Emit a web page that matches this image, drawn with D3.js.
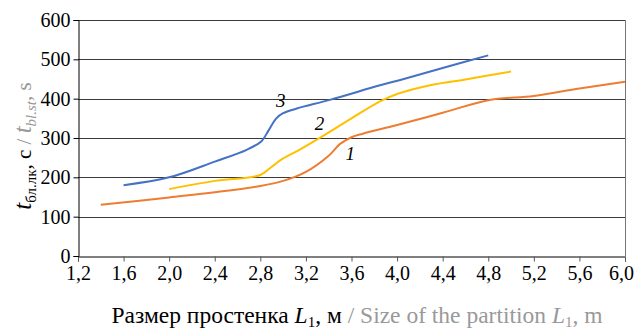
<!DOCTYPE html>
<html>
<head>
<meta charset="utf-8">
<script src="https://cdn.jsdelivr.net/npm/d3@7"></script>
<style>
  html, body { margin: 0; padding: 0; background: #fff; }
  svg { display: block; }
  svg text { font-family: "Liberation Serif", "Times New Roman", serif; }
</style>
</head>
<body>
<svg id="chart" width="636" height="330"></svg>
<script>
// Partition size L1 (m) vs. time t (s), three curves
const xTicks = [1.2, 1.6, 2.0, 2.4, 2.8, 3.2, 3.6, 4.0, 4.4, 4.8, 5.2, 5.6, 6.0];
const yTicks = [0, 100, 200, 300, 400, 500, 600];

const curve1X = [1.4, 2.0, 2.4, 2.8, 3.0, 3.2, 3.4, 3.5, 3.6, 3.7, 4.0, 4.4, 4.8, 5.2, 5.6, 6.0];
const curve1Y = [130, 149, 162, 178, 191, 214, 255, 285, 302, 311, 333, 364, 396, 407, 426, 443];

const curve2X = [2.0, 2.4, 2.8, 2.9, 3.0, 3.15, 3.32, 3.6, 3.85, 4.0, 4.3, 4.6, 5.0];
const curve2Y = [170, 191, 206, 227, 248, 271, 300, 350, 393, 412, 435, 449, 469];

const curve3X = [1.6, 2.0, 2.4, 2.68, 2.81, 2.87, 2.94, 3.0, 3.12, 3.41, 3.85, 4.02, 4.4, 4.8];
const curve3Y = [180, 200, 240, 270, 292, 318, 350, 363, 375, 397, 434, 447, 478, 510];

const seriesColors = ["#ED7D31", "#FFC000", "#4472C4"];
const seriesNames = ["1", "2", "3"];
const labelAt = [[3.59, 244], [3.32, 320], [2.98, 379]];

const svg = d3.select("#chart");
const plotLeft = 78, plotRight = 625, plotTop = 20, plotBottom = 256;
const serif = '"Liberation Serif", "Times New Roman", serif';

const x = d3.scaleLinear().domain([1.2, 6.0]).range([plotLeft, plotRight]);
const y = d3.scaleLinear().domain([0, 600]).range([plotBottom, plotTop]);

// horizontal gridlines
svg.append("g")
  .selectAll("line")
  .data(yTicks.slice(1))
  .join("line")
  .attr("x1", plotLeft).attr("x2", plotRight)
  .attr("y1", d => Math.round(y(d)) + 0.5).attr("y2", d => Math.round(y(d)) + 0.5)
  .attr("stroke", "#3a3a3a").attr("stroke-width", 1);

// right border
svg.append("line")
  .attr("x1", plotRight + 0.5).attr("x2", plotRight + 0.5)
  .attr("y1", plotTop).attr("y2", plotBottom)
  .attr("stroke", "#777").attr("stroke-width", 1);

// x axis
const xAxis = svg.append("g")
  .attr("transform", `translate(0,${Math.round(plotBottom) + 0.5})`)
  .call(d3.axisBottom(x).tickValues(xTicks).tickSize(5).tickPadding(4)
    .tickFormat(d => d3.format(".1f")(d).replace(".", ",")));
xAxis.attr("font-family", null);
xAxis.select(".domain").attr("stroke", "#000");
xAxis.selectAll(".tick line").attr("stroke", "#555");
xAxis.selectAll("text").attr("fill", "#000")
  .style("font-family", serif).style("font-size", "20px");
// keep the last tick label inside the canvas
xAxis.selectAll(".tick").filter(d => d === xTicks[xTicks.length - 1])
  .select("text").attr("dx", -4);

// y axis
const yAxis = svg.append("g")
  .attr("transform", `translate(${plotLeft + 0.5},0)`)
  .call(d3.axisLeft(y).tickValues(yTicks).tickSize(5).tickPadding(3));
yAxis.attr("font-family", null);
yAxis.select(".domain").attr("stroke", "#000");
yAxis.selectAll(".tick line").attr("stroke", "#000");
yAxis.selectAll("text").attr("fill", "#000")
  .style("font-family", serif).style("font-size", "20px");

// curves
const line = d3.line().x(d => x(d[0])).y(d => y(d[1])).curve(d3.curveCatmullRom.alpha(0.5));
const series = [
  d3.zip(curve1X, curve1Y),
  d3.zip(curve2X, curve2Y),
  d3.zip(curve3X, curve3Y)
];
svg.append("g")
  .selectAll("path")
  .data(series)
  .join("path")
  .attr("d", line)
  .attr("fill", "none")
  .attr("stroke", (d, i) => seriesColors[i])
  .attr("stroke-width", 2);

// curve numbers
svg.append("g")
  .selectAll("text")
  .data(seriesNames)
  .join("text")
  .attr("x", (d, i) => x(labelAt[i][0]))
  .attr("y", (d, i) => y(labelAt[i][1]))
  .attr("text-anchor", "middle")
  .attr("font-style", "italic")
  .attr("font-size", 19)
  .text(d => d);

// y axis title
const yt = svg.append("text")
  .attr("transform", `translate(31,146) rotate(-90)`)
  .attr("text-anchor", "middle")
  .attr("font-size", 21);
yt.append("tspan").attr("font-style", "italic").attr("font-size", 25).text("t");
yt.append("tspan").attr("font-size", 15).attr("dy", 5).text("бл.лк");
yt.append("tspan").attr("dy", -5).text(", с ");
yt.append("tspan").attr("fill", "#999").text("/ ");
yt.append("tspan").attr("fill", "#999").attr("font-style", "italic").attr("font-size", 25).text("t");
yt.append("tspan").attr("fill", "#999").attr("font-style", "italic").attr("font-size", 15).attr("dy", 5).text("bl.st");
yt.append("tspan").attr("fill", "#999").attr("dy", -5).text(", s");

// x axis title
const xt = svg.append("text")
  .attr("x", 357).attr("y", 323)
  .attr("text-anchor", "middle")
  .attr("font-size", 23.5);
xt.append("tspan").text("Размер простенка ");
xt.append("tspan").attr("font-style", "italic").text("L");
xt.append("tspan").attr("font-size", 15).attr("dy", 4).text("1");
xt.append("tspan").attr("dy", -4).text(", м ");
xt.append("tspan").attr("fill", "#999").text("/ Size of the partition ");
xt.append("tspan").attr("fill", "#999").attr("font-style", "italic").text("L");
xt.append("tspan").attr("fill", "#999").attr("font-size", 15).attr("dy", 4).text("1");
xt.append("tspan").attr("fill", "#999").attr("dy", -4).text(", m");
</script>
</body>
</html>
